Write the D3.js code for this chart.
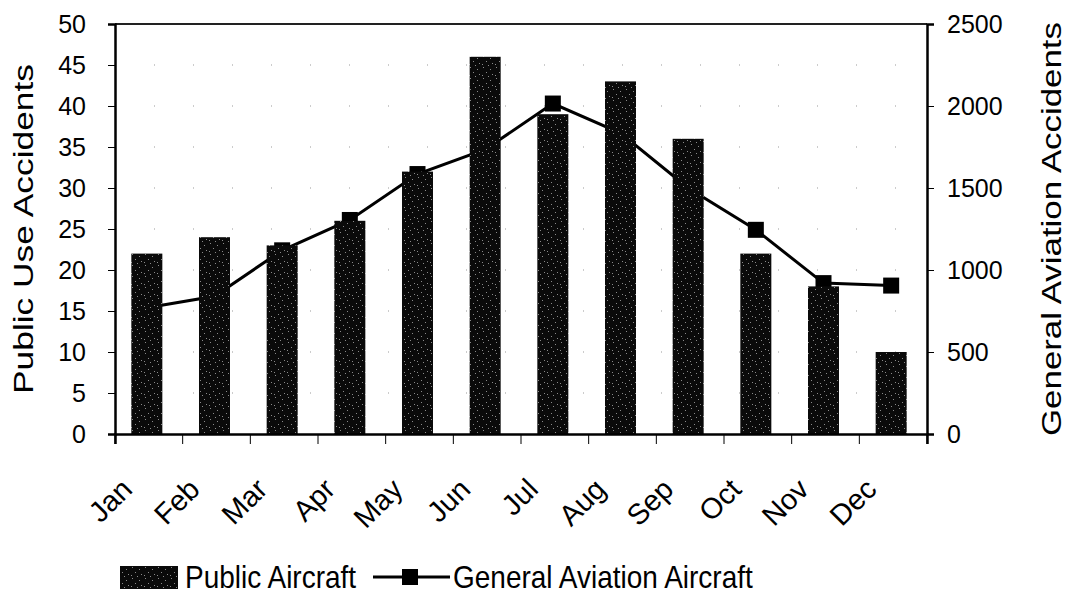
<!DOCTYPE html>
<html>
<head>
<meta charset="utf-8">
<script src="https://cdnjs.cloudflare.com/ajax/libs/d3/7.8.5/d3.min.js"></script>
<style>
  body { margin: 0; background: #fff; }
  text { font-family: "Liberation Sans", Arial, sans-serif; fill: #000; }
</style>
</head>
<body>
<div id="chart"></div>
<script>
// data
var months = ["Jan", "Feb", "Mar", "Apr", "May", "Jun", "Jul", "Aug", "Sep", "Oct", "Nov", "Dec"];
var publicAircraft = [22, 24, 23, 26, 32, 46, 39, 43, 36, 22, 18, 10];
var generalAviation = [770, 840, 1120, 1305, 1585, 1735, 2015, 1835, 1500, 1245, 920, 905];
var leftTicks = [0, 5, 10, 15, 20, 25, 30, 35, 40, 45, 50];
var rightTicks = [0, 500, 1000, 1500, 2000, 2500];

var svgWidth = 1068;
var svgHeight = 595;
var plot = { left: 115, right: 927, top: 24, bottom: 434 };

var svg = d3.select("#chart")
  .append("svg")
  .attr("width", svgWidth)
  .attr("height", svgHeight);

// speckled black fill for bars
var defs = svg.append("defs");
var pat = defs.append("pattern")
  .attr("id", "speckle")
  .attr("patternUnits", "userSpaceOnUse")
  .attr("width", 13)
  .attr("height", 11);
pat.append("rect").attr("width", 13).attr("height", 11).attr("fill", "#0a0a0a");
[[2, 1], [9, 3], [5, 6], [11, 8], [1, 9], [7, 10]].forEach(function(p) {
  pat.append("rect").attr("x", p[0]).attr("y", p[1]).attr("width", 1).attr("height", 1).attr("fill", "#8a8a8a");
});

var x = d3.scaleBand().domain(months).range([plot.left, plot.right]);
var yLeft = d3.scaleLinear().domain([0, 50]).range([plot.bottom, plot.top]);
var yRight = d3.scaleLinear().domain([0, 2500]).range([plot.bottom, plot.top]);

var cx = function(m) { return x(m) + x.bandwidth() / 2 - 2; };
var barW = 31;

// faint dotted gridlines
svg.append("g").selectAll("line")
  .data(leftTicks.slice(1, -1))
  .enter()
  .append("line")
  .attr("x1", plot.left)
  .attr("x2", plot.right)
  .attr("y1", d => yLeft(d))
  .attr("y2", d => yLeft(d))
  .attr("stroke", "#999")
  .attr("stroke-width", 1)
  .attr("stroke-dasharray", "1,38");

// general aviation line (drawn under bars)
var line = d3.line()
  .x((d, i) => cx(months[i]))
  .y(d => yRight(d));

svg.append("path")
  .datum(generalAviation)
  .attr("d", line)
  .attr("fill", "none")
  .attr("stroke", "#000")
  .attr("stroke-width", 3);

svg.append("g").selectAll("rect")
  .data(generalAviation)
  .enter()
  .append("rect")
  .attr("x", (d, i) => cx(months[i]) - 8)
  .attr("y", d => yRight(d) - 8)
  .attr("width", 16)
  .attr("height", 16)
  .attr("fill", "#000");

// public aircraft bars
svg.append("g").selectAll("rect")
  .data(publicAircraft)
  .enter()
  .append("rect")
  .attr("x", (d, i) => cx(months[i]) - barW / 2)
  .attr("y", d => yLeft(d))
  .attr("width", barW)
  .attr("height", d => plot.bottom - yLeft(d))
  .attr("fill", "url(#speckle)");

// plot border top
svg.append("line")
  .attr("x1", plot.left).attr("x2", plot.right)
  .attr("y1", plot.top).attr("y2", plot.top)
  .attr("stroke", "#222").attr("stroke-width", 2);

// axes
var leftAxis = d3.axisLeft(yLeft).tickValues(leftTicks).tickSize(7).tickPadding(22);
var rightAxis = d3.axisRight(yRight).tickValues(rightTicks).tickSize(7).tickPadding(13).tickFormat(d3.format("d"));
var bottomAxis = d3.axisBottom(x).tickSize(10).tickFormat("");

var gL = svg.append("g").attr("transform", `translate(${plot.left},0)`).call(leftAxis);
var gR = svg.append("g").attr("transform", `translate(${plot.right},0)`).call(rightAxis);
var gB = svg.append("g").attr("transform", `translate(0,${plot.bottom})`).call(bottomAxis);

// band boundaries as ticks on the x axis
gB.selectAll(".tick").remove();
gB.selectAll(".bnd")
  .data(months.concat(["end"]))
  .enter()
  .append("line")
  .attr("x1", (d, i) => plot.left + i * x.bandwidth())
  .attr("x2", (d, i) => plot.left + i * x.bandwidth())
  .attr("y1", 0)
  .attr("y2", 10)
  .attr("stroke", "#000");

[gL, gR, gB].forEach(function(g) {
  g.select(".domain").attr("stroke", "#000").attr("stroke-width", 2.5);
  g.selectAll(".tick line").attr("stroke", "#000");
  g.selectAll(".tick text").style("font-size", "25px").attr("fill", "#000");
});

// month labels
svg.append("g").selectAll("text")
  .data(months)
  .enter()
  .append("text")
  .attr("text-anchor", "end")
  .attr("transform", d => `translate(${cx(d) - 13},${491}) rotate(-45)`)
  .style("font-size", "29px")
  .text(d => d);

// axis titles
svg.append("text")
  .attr("transform", `translate(33,${(plot.top + plot.bottom) / 2}) rotate(-90)`)
  .attr("text-anchor", "middle")
  .attr("textLength", 330)
  .attr("lengthAdjust", "spacingAndGlyphs")
  .style("font-size", "27px")
  .text("Public Use Accidents");

svg.append("text")
  .attr("transform", `translate(1061,${(plot.top + plot.bottom) / 2}) rotate(-90)`)
  .attr("text-anchor", "middle")
  .attr("textLength", 414)
  .attr("lengthAdjust", "spacingAndGlyphs")
  .style("font-size", "27px")
  .text("General Aviation Accidents");

// legend
var lg = svg.append("g").attr("transform", "translate(0,577)");
lg.append("rect").attr("x", 120).attr("y", -11).attr("width", 58).attr("height", 23).attr("fill", "url(#speckle)");
lg.append("text").attr("transform", "translate(185,11) scale(1,1.12)").style("font-size", "28px").text("Public Aircraft");
lg.append("line").attr("x1", 373).attr("x2", 450).attr("y1", 0).attr("y2", 0).attr("stroke", "#000").attr("stroke-width", 3);
lg.append("rect").attr("x", 402).attr("y", -8).attr("width", 16).attr("height", 16).attr("fill", "#000");
lg.append("text").attr("transform", "translate(453,11) scale(1,1.12)").style("font-size", "28px").text("General Aviation Aircraft");
</script>
</body>
</html>
